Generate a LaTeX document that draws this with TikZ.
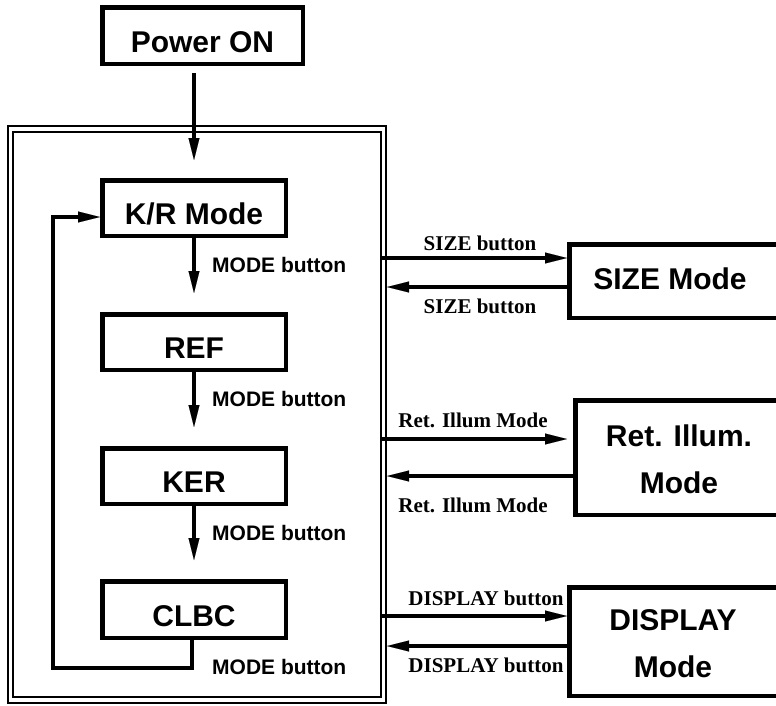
\documentclass[tikz,border=0pt]{standalone}
\usepackage{fontspec}
\setmainfont{Liberation Sans}
\newfontfamily\serifb{Liberation Serif}
\usetikzlibrary{arrows.meta}
\begin{document}
\begin{tikzpicture}[x=1pt,y=-1pt,
  modebox/.style={draw, line width=4.5pt, inner sep=0pt, text height=33pt, text depth=0pt, font=\fontsize{30}{36}\selectfont\bfseries},
  emptybox/.style={draw, line width=4.5pt, inner sep=0pt},
  boxtext/.style={inner sep=0pt, align=center, font=\fontsize{30}{47}\selectfont\bfseries},
  frameline/.style={draw, line width=2pt, inner sep=0pt},
  arr/.style={line width=3.5pt, -{Triangle[length=22pt,width=11pt,line width=0.1pt]}},
  lbl/.style={inner sep=0pt, font=\fontsize{21}{24}\selectfont\bfseries},
  slbl/.style={inner sep=0pt, font=\serifb\fontsize{21}{24}\selectfont\bfseries}]
\useasboundingbox (0,0) rectangle (776,705);
\clip (0,0) rectangle (776,705);
\fill[white] (0,0) rectangle (776,705);

% outer double frame
\node[frameline, minimum width=378pt, minimum height=577pt] (fo) at (197,414.5) {};
\node[frameline, minimum width=367.5pt, minimum height=565pt] (fi) at (196.75,414.5) {};

% boxes
\node[modebox, minimum width=200.5pt, minimum height=56.5pt] (power) at (202.5,35.5) {Power ON};
\node[modebox, minimum width=183.5pt, minimum height=55.5pt] (kr) at (194,208) {K/R Mode};
\node[modebox, minimum width=183.5pt, minimum height=55.5pt] (ref) at (194,342) {REF};
\node[modebox, minimum width=183.5pt, minimum height=55.5pt] (ker) at (194,476) {KER};
\node[modebox, minimum width=183.5pt, minimum height=56.5pt] (clbc) at (194,609.5) {CLBC};

\node[emptybox, minimum width=228.5pt, minimum height=73.5pt] (sizebox) at (683.5,281) {};
\node[boxtext] (sizet) at (670,279) {SIZE Mode};
\node[emptybox, minimum width=222.5pt, minimum height=114.5pt] (retbox) at (686.5,457.5) {};
\node[boxtext] (rett) at (679,459) {Ret. Illum.\\Mode};
\node[emptybox, minimum width=228.5pt, minimum height=108.5pt] (dispbox) at (683.5,641.5) {};
\node[boxtext] (dispt) at (673,644) {DISPLAY\\Mode};

% vertical arrows
\draw[arr] ([yshift=-7pt]kr.north |- power.south) -- ([yshift=18pt]kr.north);
\draw[arr] (kr.south) -- ([yshift=19pt]ref.north);
\draw[arr] (ref.south) -- ([yshift=19pt]ker.north);
\draw[arr] (ker.south) -- ([yshift=19pt]clbc.north);

% loop back
\coordinate (lb) at (53,668);
\coordinate (kin) at ([yshift=-9pt]kr.west);
\draw[arr, line join=miter] ([xshift=-2pt]clbc.south) -- ([xshift=-2pt]clbc.south |- lb) -- (lb) -- (lb |- kin) -- (kin);

% MODE button labels
\node[lbl, anchor=west] (m1) at (212,265) {MODE button};
\node[lbl, anchor=west] (m2) at (212,399) {MODE button};
\node[lbl, anchor=west] (m3) at (212,533) {MODE button};
\node[lbl, anchor=west] (m4) at (212,667) {MODE button};

% side arrows
\coordinate (s1) at ([yshift=23pt]sizebox.west);
\coordinate (s2) at ([yshift=-6pt]sizebox.west);
\draw[arr] (fi.east |- s1) -- (s1);
\draw[arr] (s2) -- (fo.east |- s2);
\coordinate (r1) at ([yshift=18.5pt,xshift=-6pt]retbox.west);
\coordinate (r2) at ([yshift=-18.5pt]retbox.west);
\draw[arr] (fi.east |- r1) -- (r1);
\draw[arr] (r2) -- (fo.east |- r2);
\coordinate (d1) at ([yshift=25.5pt]dispbox.west);
\coordinate (d2) at ([yshift=-4.5pt]dispbox.west);
\draw[arr] (fi.east |- d1) -- (d1);
\draw[arr] (d2) -- (fo.east |- d2);

% side labels
\node[slbl] (ls1) at (480,243) {SIZE button};
\node[slbl] (ls2) at (480,306) {SIZE button};
\node[slbl] (lr1) at (473,420) {Ret. Illum Mode};
\node[slbl] (lr2) at (473,505) {Ret. Illum Mode};
\node[slbl] (ld1) at (486,598) {DISPLAY button};
\node[slbl] (ld2) at (486,665) {DISPLAY button};
\end{tikzpicture}
\end{document}
